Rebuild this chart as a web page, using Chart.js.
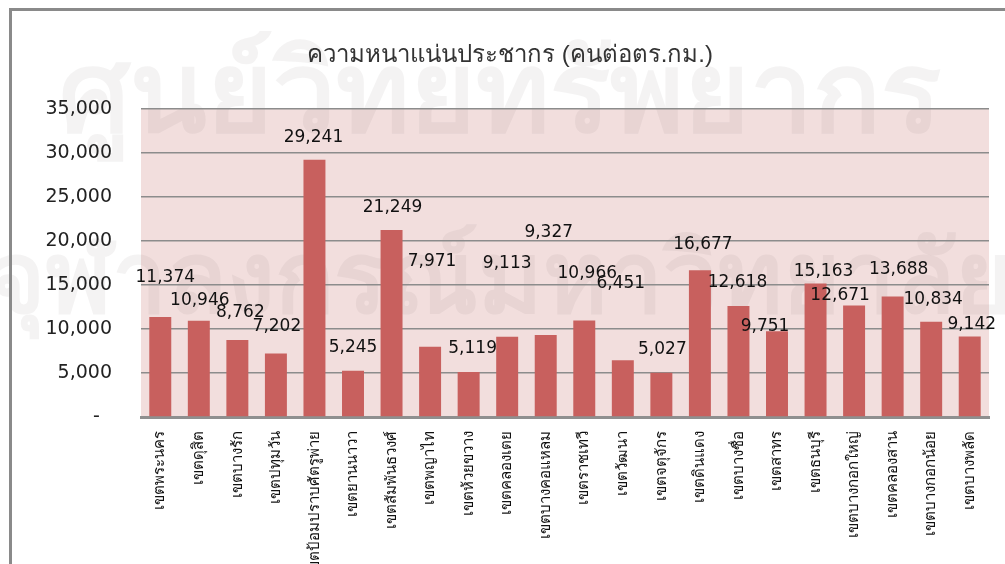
<!DOCTYPE html>
<html lang="th">
<head>
  <meta charset="UTF-8">
  <title>ความหนาแน่นประชากร</title>
  <script src="https://cdn.jsdelivr.net/npm/chart.js"></script>
  <style>
    html, body { margin: 0; padding: 0; background: #fff; }
    #wrap { width: 1005px; height: 564px; position: relative; }
  </style>
</head>
<body>
  <div id="wrap"><canvas id="densityChart"></canvas></div>
  <script>
    // ข้อมูล
    const districts = ['เขตพระนคร', 'เขตดุสิต', 'เขตบางรัก', 'เขตปทุมวัน', 'เขตป้อมปราบศัตรูพ่าย',
      'เขตยานนาวา', 'เขตสัมพันธวงศ์', 'เขตพญาไท', 'เขตห้วยขวาง', 'เขตคลองเตย', 'เขตบางคอแหลม',
      'เขตราชเทวี', 'เขตวัฒนา', 'เขตจตุจักร', 'เขตดินแดง', 'เขตบางซื่อ', 'เขตสาทร', 'เขตธนบุรี',
      'เขตบางกอกใหญ่', 'เขตคลองสาน', 'เขตบางกอกน้อย', 'เขตบางพลัด'];
    const density = [11374, 10946, 8762, 7202, 29241, 5245, 21249, 7971, 5119, 9113, 9327,
      10966, 6451, 5027, 16677, 12618, 9751, 15163, 12671, 13688, 10834, 9142];
    const yTicks = [0, 5000, 10000, 15000, 20000, 25000, 30000, 35000];
    const chartTitle = 'ความหนาแน่นประชากร (คนต่อตร.กม.)';
    const watermark = ['ศูนย์วิทยทรัพยากร', 'จุฬาลงกรณ์มหาวิทยาลัย'];

    // ตำแหน่งป้ายค่า (เลื่อนจากยอดแท่ง, px) ตามที่ถูกลากไว้ในภาพต้นฉบับ
    const labelShift = [[5, 39], [1, 20], [3, 27], [1, 27], [-1, 22], [0, 23], [1, 22], [2, 85],
      [4, 23], [0, 73], [3, 102], [3, 47], [-2, 77], [1, 23], [3, 26], [-1, 23], [-12, 5],
      [8, 12], [-14, 10], [6, 27], [2, 22], [2, 12]];

    const fmt = v => v.toLocaleString('en-US');

    // พื้นหลัง กรอบ ลายน้ำ และชื่อกราฟ
    const backdrop = {
      id: 'backdrop',
      beforeDraw(chart) {
        const { ctx, chartArea: a } = chart;
        ctx.save();
        ctx.fillStyle = '#f2dedd';
        ctx.fillRect(a.left, a.top, a.right - a.left, a.bottom - a.top);
        ctx.fillStyle = 'rgba(120, 105, 105, 0.08)';
        ctx.textAlign = 'center';
        ctx.textBaseline = 'middle';
        ctx.font = 'bold 112px sans-serif';
        ctx.fillText(watermark[0], 500, 100);
        ctx.font = 'bold 98px sans-serif';
        ctx.fillText(watermark[1], 500, 285);
        ctx.strokeStyle = '#8a8a8a';
        ctx.lineWidth = 3;
        ctx.beginPath();
        ctx.moveTo(10.5, 570);
        ctx.lineTo(10.5, 9.5);
        ctx.lineTo(1010, 9.5);
        ctx.stroke();
        ctx.fillStyle = '#333';
        ctx.font = '24px sans-serif';
        ctx.fillText(chartTitle, 510, 55);
        ctx.restore();
      }
    };

    // ป้ายค่าเหนือแท่ง
    const valueLabels = {
      id: 'valueLabels',
      afterDatasetsDraw(chart) {
        const { ctx } = chart;
        const meta = chart.getDatasetMeta(0);
        ctx.save();
        ctx.fillStyle = '#111';
        ctx.font = '17px "DejaVu Sans", sans-serif';
        ctx.textAlign = 'center';
        ctx.textBaseline = 'middle';
        meta.data.forEach((bar, i) => {
          const [dx, dy] = labelShift[i];
          ctx.fillText(fmt(density[i]), bar.x + dx, bar.y - dy);
        });
        ctx.restore();
      }
    };

    new Chart(document.getElementById('densityChart'), {
      type: 'bar',
      data: {
        labels: districts,
        datasets: [{
          data: density,
          backgroundColor: '#c8605e',
          barPercentage: 0.57,
          categoryPercentage: 1
        }]
      },
      options: {
        responsive: true,
        maintainAspectRatio: false,
        animation: false,
        layout: { padding: { left: 0, right: 16, top: 109, bottom: 0 } },
        plugins: {
          legend: { display: false },
          tooltip: { enabled: false },
          title: { display: false }
        },
        scales: {
          x: {
            grid: { display: false },
            border: { color: '#8f8f8f', width: 3 },
            ticks: {
              color: '#111',
              font: { size: 15, family: 'sans-serif' },
              minRotation: 90,
              maxRotation: 90,
              autoSkip: false,
              padding: 6
            },
            afterFit(scale) { scale.height = 147; }
          },
          y: {
            min: 0,
            max: 35000,
            afterBuildTicks(scale) { scale.ticks = yTicks.map(v => ({ value: v })); },
            grid: {
              color: ctx => ctx.tick && ctx.tick.value === 0 ? 'rgba(0,0,0,0)' : '#8c8c8c',
              lineWidth: 1.5,
              drawTicks: false
            },
            border: { display: false },
            ticks: {
              color: '#222',
              font: { size: 19, family: '"DejaVu Sans", sans-serif' },
              padding: 29,
              callback: v => v === 0 ? '-  ' : fmt(v)
            },
            afterFit(scale) { scale.width = 141; }
          }
        }
      },
      plugins: [backdrop, valueLabels]
    });
  </script>
</body>
</html>
